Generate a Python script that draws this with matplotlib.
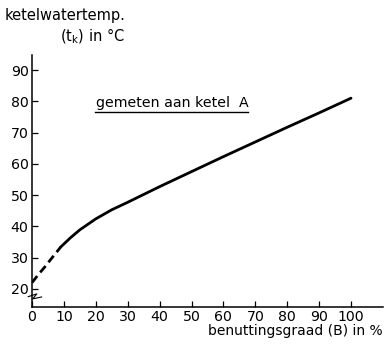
import matplotlib
matplotlib.use("Agg")
import matplotlib.pyplot as plt
import numpy as np

# dashed (extrapolated) part
b_dash = [0, 1, 2, 4, 6, 9]
t_dash = [22.0, 23.3, 24.6, 27.0, 29.6, 33.4]
# measured part
b_meas = [9, 12, 15, 20, 25, 30, 40, 50, 60, 70, 80, 90, 100]
t_meas = [33.4, 36.3, 38.9, 42.4, 45.3, 47.7, 52.7, 57.5, 62.3, 67.0, 71.7, 76.3, 81.0]

xticks = [0, 10, 20, 30, 40, 50, 60, 70, 80, 90, 100]
yticks = [20, 30, 40, 50, 60, 70, 80, 90]

plt.rcParams['font.family'] = ['DejaVu Sans']
fig = plt.figure(figsize=(3.86, 3.44), dpi=100)
ax = fig.add_axes([0.083, 0.1076, 0.909, 0.7324])
ax.set_xlim(0, 110)
ax.set_ylim(14.2, 94.8)

ax.plot(b_dash, t_dash, color='black', lw=2.0, linestyle=(0, (3.0, 1.7)), solid_capstyle='butt')
ax.plot(b_meas, t_meas, color='black', lw=2.0, solid_capstyle='round')

for s in ['top', 'right']:
    ax.spines[s].set_visible(False)
for s in ['left', 'bottom']:
    ax.spines[s].set_linewidth(1.1)

ax.set_xticks(xticks)
ax.set_yticks(yticks)
ax.tick_params(direction='in', length=4, width=0.9, labelsize=10.2, pad=2.5)

# broken-axis mark
ax.plot([-1.2, 1.5, 0.2, 3.0], [17.5, 18.4, 16.8, 17.4], color='black', lw=0.8,
        clip_on=False)

fig.text(0.013, 0.955, "ketelwatertemp.", fontsize=10.5, ha='left', va='center')
fig.text(0.155, 0.895, r"(t$_\mathrm{k}$) in °C", fontsize=10.5, ha='left', va='center')
fig.text(0.250, 0.700, "gemeten aan ketel  A", fontsize=10.2, ha='left', va='center')
fig.add_artist(plt.Line2D([0.246, 0.643], [0.673, 0.673], color='black', lw=1.0))
fig.text(0.992, 0.017, "benuttingsgraad (B) in %", fontsize=10, ha='right', va='bottom')

fig.savefig("out.png", dpi=100)
